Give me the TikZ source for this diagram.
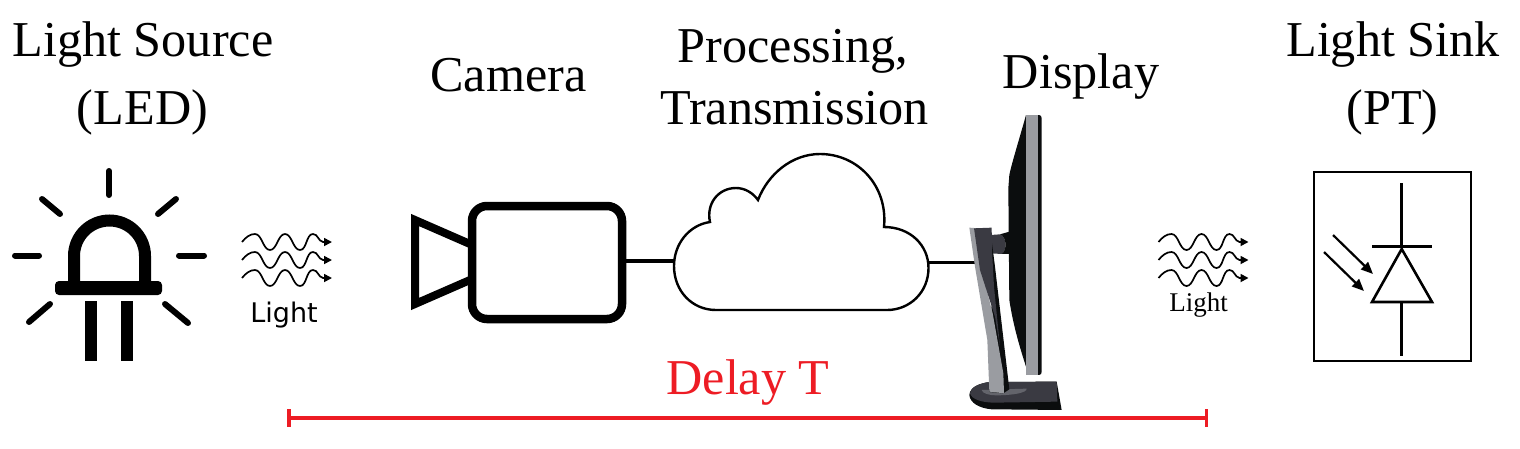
\documentclass[tikz,border=0pt]{standalone}
\usepackage{fontspec}
\setmainfont{Liberation Serif}
\newfontfamily\lightsans{DejaVu Sans}
\usetikzlibrary{arrows.meta}
\definecolor{delayred}{HTML}{ED1C24}
\definecolor{mongrey}{HTML}{9A9CA1}
\definecolor{mondark}{HTML}{3A3A42}
\definecolor{monblack}{HTML}{0B0D0E}
\definecolor{monmid}{HTML}{63646B}
\tikzset{
  title/.style={font=\fontsize{50.2}{60}\selectfont, anchor=base, inner sep=0pt},
  ledline/.style={line width=6pt, line cap=round},
  wavepath/.style={line width=1.7pt, -{Stealth[length=8pt,width=8pt,inset=0pt]}},
  diode/.style={line width=2.6pt},
  cam/.style={line width=8.5pt, draw=black, fill=white},
  link/.style={line width=3.6pt},
  wave/.pic={
    \draw[wavepath] (0,0) .. controls (4,-5) and (8,-8) .. (13,-8)
      .. controls (20,-8) and (21,8) .. (28,8)
      .. controls (35,8) and (36,-8) .. (43,-8)
      .. controls (50,-8) and (51,8) .. (58,8)
      .. controls (65,8) and (64,-8) .. (71,-8)
      .. controls (76,-8) and (76,-1) .. (81,0) -- (90,0);
  }
}
\begin{document}
\begin{tikzpicture}[x=1pt,y=-1pt]
\useasboundingbox (0,0) rectangle (1520,448);
% titles
\node[title] (t1) at (143,56) {Light Source};
\node[title] (t2) at (142.5,124) {(LED)};
\node[title] (t3) at (508.5,91) {Camera};
\node[title] (t4) at (793,62) {Processing,};
\node[title] (t5) at (794.5,124) {Transmission};
\node[title] (t6) at (1081,88) {Display};
\node[title] (t7) at (1393,56) {Light Sink};
\node[title] (t8) at (1392.5,124) {(PT)};
\node[title, text=delayred] (t9) at (748,394) {Delay T};
\node[anchor=base, inner sep=0pt, font=\lightsans\fontsize{27}{30}\selectfont] (l1) at (284,322) {Light};
\node[anchor=base, inner sep=0pt, font=\fontsize{27}{30}\selectfont] (l2) at (1198.5,311) {Light};
% LED
\draw[ledline] (109,171) -- (109,195);
\draw[ledline] (42,199) -- (60,214);
\draw[ledline] (176,199) -- (158,214);
\draw[ledline] (15,255.5) -- (39,255.5);
\draw[ledline] (179,255.5) -- (204,255.5);
\draw[ledline] (50,304) -- (29,322);
\draw[ledline] (165,304) -- (188,323);
\draw[line width=12pt] (74,284) -- (74,256) arc[start angle=180,end angle=360,radius=35.5] -- (145,284);
\fill[rounded corners=4pt] (55,281) rectangle (162,295);
\fill (85,301) rectangle (97,361);
\fill (121,301) rectangle (133,361);
% waves
\foreach \yy in {242,260,278} {
  \pic at (242,\yy) {wave};
  \pic at (1158.5,\yy) {wave};
}
% camera
\draw[line width=8pt, miter limit=10] (470,244) -- (415,220) -- (415,304) -- (470,280);
\node[cam, rounded corners=15pt, minimum width=150pt, minimum height=113pt, inner sep=0pt] (camera) at (547,262.5) {};
% cloud
\coordinate (cloudL) at (674,261);
\coordinate (cloudR) at (929,262);
\coordinate (monL) at (975,262);
\draw[link] (camera.east |- cloudL) -- (cloudL);
\draw[link, line width=3pt] (cloudR) -- (monL);
\draw[line width=2.4pt, fill=white, line join=miter]
  (716,310) .. controls (692,310) and (674,291) .. (674,266)
  .. controls (674,244) and (689,225) .. (710,222)
  .. controls (706,204) and (718,188) .. (736,188)
  .. controls (745,188) and (753,193) .. (758,200)
  .. controls (768,174) and (792,154) .. (820,154)
  .. controls (858,154) and (888,186) .. (884,227)
  .. controls (910,227) and (928.5,245) .. (928.5,268)
  .. controls (928.5,292) and (910,310) .. (887,310) -- cycle;
% monitor
\begin{scope}[shift={(950,100)},x=0.3333pt,y=-0.3333pt]
% base
\fill[monblack] (58,885) .. controls (60,860) and (90,850) .. (118,846) -- (320,845) -- (335,930) -- (125,928) .. controls (90,925) and (60,910) .. (58,885) -- cycle;
\fill[mondark] (60,880) .. controls (62,860) and (90,850) .. (118,846) -- (320,845) -- (322,905) -- (135,908) .. controls (95,908) and (65,898) .. (60,880) -- cycle;
\fill[monmid] (95,870) -- (230,866) .. controls (232,878) and (190,886) .. (140,886) .. controls (115,886) and (97,880) .. (95,870) -- cycle;
% neck joint
\fill[mondark] (122,405) -- (150,403) .. controls (170,410) and (172,450) .. (155,462) -- (122,460) -- cycle;
\fill[monblack] (150,403) -- (178,395) -- (178,462) -- (155,462) .. controls (172,450) and (170,410) .. (150,403) -- cycle;
% panel
\fill[monblack] (228,45) .. controls (210,110) and (185,190) .. (178,225) -- (175,265) -- (178,600) .. controls (190,680) and (212,750) .. (228,800) -- (228,825) -- (268,825) .. controls (273,825) and (275,820) .. (275,815) -- (275,55) .. controls (275,50) and (272,45) .. (268,45) -- cycle;
\fill[mongrey] (228,45) rectangle (265,825);
% stand
\fill[monblack] (124,415) -- (135,500) -- (178,868) -- (160,880) -- (118,876) -- (125,600) -- cycle;
\fill[mongrey] (58,383) -- (85,385) -- (92,500) -- (128,640) -- (160,820) -- (162,880) -- (118,875) -- (112,720) -- (75,500) -- cycle;
\fill[mondark] (72,385) -- (125,383) -- (126,450) -- (132,560) -- (150,740) -- (135,650) -- (90,510) -- cycle;
\end{scope}
% photodiode
\draw[line width=2.6pt] (1314,172) rectangle (1471,361);
\coordinate (dTop) at (1401.7,183);
\coordinate (dBar) at (1401.7,246.5);
\coordinate (dApex) at (1401.7,249);
\coordinate (dBase) at (1401.7,302);
\coordinate (dBot) at (1401.7,356);
\draw[diode] (dTop) -- (dBar);
\draw[diode] (1372,246.5) -- (1432,246.5);
\draw[diode, line join=miter] (dApex) -- (1372,302) -- (1432,302) -- cycle;
\draw[diode] (dBase) -- (dBot);
\draw[line width=2.2pt, -{Stealth[length=12pt,width=10pt,inset=0pt]}] (1333,235) -- (1373,274);
\draw[line width=2.2pt, -{Stealth[length=12pt,width=10pt,inset=0pt]}] (1324,252) -- (1364,291);
% delay
\coordinate (dl) at (289,418);
\coordinate (dr) at (1206.5,418);
\draw[delayred, line width=3.5pt] (dl) -- (dr);
\draw[delayred, line width=3.5pt] (dl |- 0,409) -- (dl |- 0,427);
\draw[delayred, line width=3.5pt] (dr |- 0,409) -- (dr |- 0,427);
\end{tikzpicture}
\end{document}
